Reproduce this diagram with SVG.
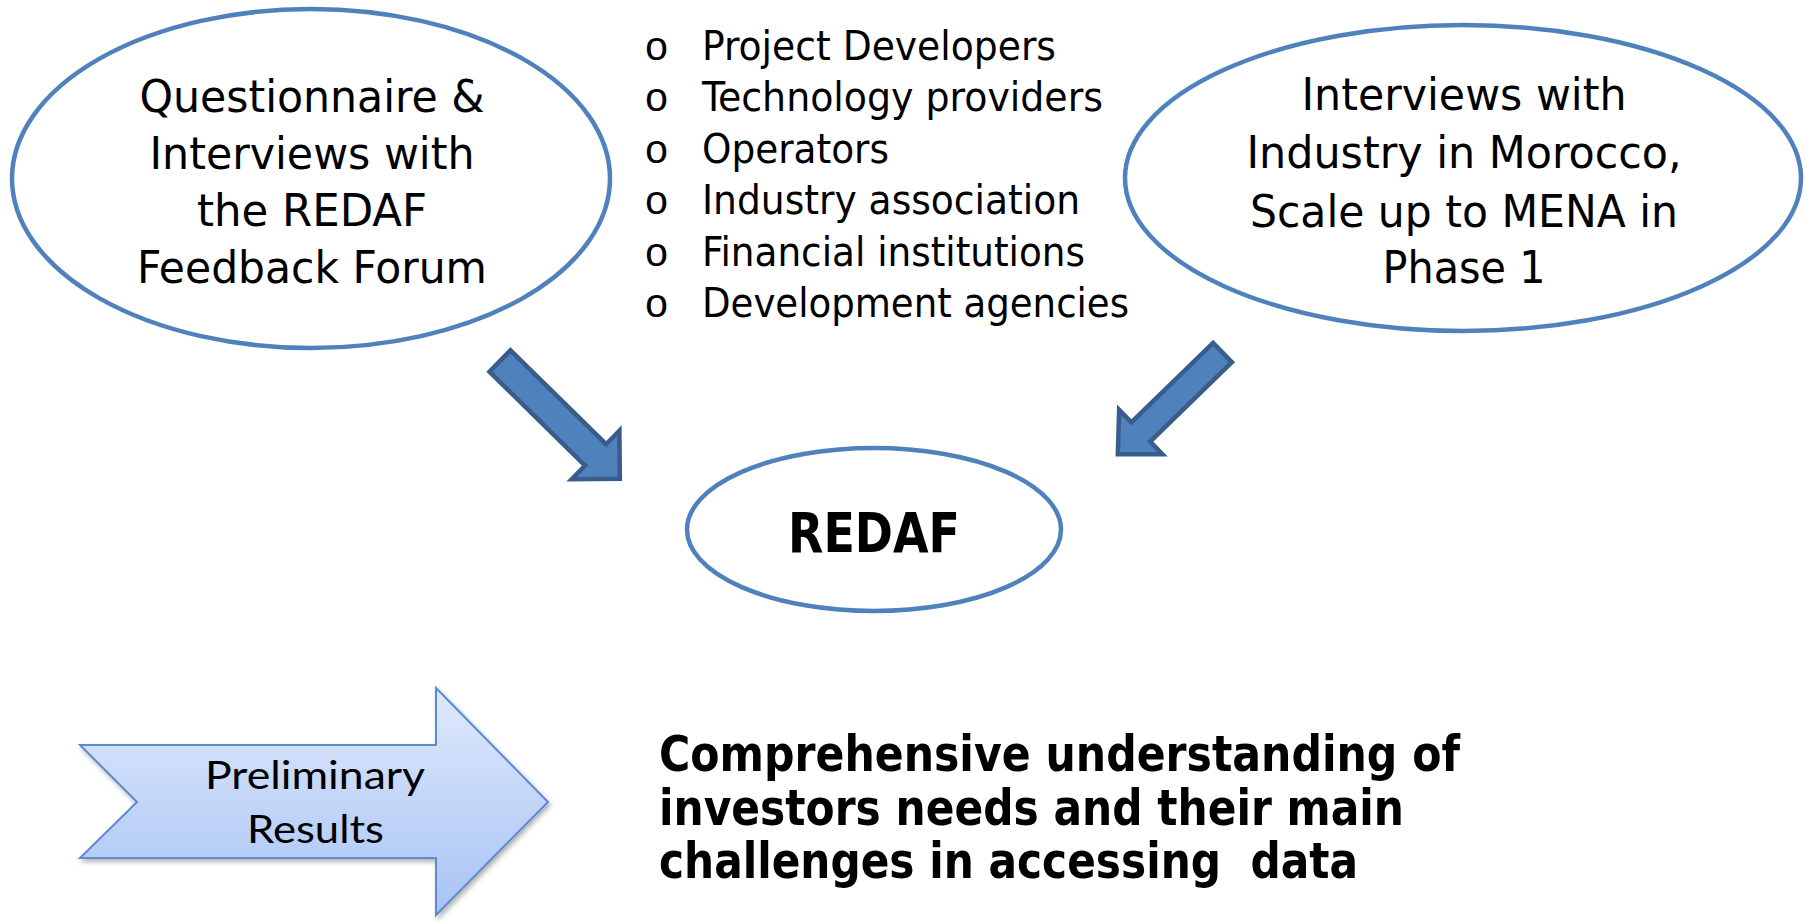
<svg xmlns="http://www.w3.org/2000/svg" width="1806" height="922" viewBox="0 0 1806 922">
  <defs>
    <style>
      .oval { fill: #ffffff; stroke: #4f81bd; stroke-width: 4.5; }
      .lbl { font-family: "DejaVu Sans Condensed", "DejaVu Sans", sans-serif; fill: #000000; }
      .big { font-size: 45px; text-anchor: middle; }
      .item { font-size: 41px; }
      .dot { font-family: "Liberation Mono", monospace; font-size: 41px; text-anchor: middle; fill: #000000; }
      .bold { font-family: "DejaVu Sans Condensed", "DejaVu Sans", sans-serif; font-weight: bold; fill: #000000; }
      .blk { fill: #4f81bd; stroke: #385d8a; stroke-width: 4.5; stroke-linejoin: miter; }
      .soft { font-family: Lato, "Open Sans", sans-serif; font-size: 38px; text-anchor: middle; fill: #000000; }
    </style>
    <linearGradient id="paleBlue" x1="0" y1="0" x2="0" y2="1">
      <stop offset="0" stop-color="#dfe9fc"/>
      <stop offset="1" stop-color="#a7c3f5"/>
    </linearGradient>
    <filter id="shade" x="-10%" y="-10%" width="125%" height="130%">
      <feDropShadow dx="2" dy="3" stdDeviation="2.5" flood-color="#000000" flood-opacity="0.3"/>
    </filter>
  </defs>

  <rect width="1806" height="922" fill="#ffffff"/>

  <!-- survey source on the left -->
  <g id="node-questionnaire">
    <ellipse class="oval" cx="311" cy="178.5" rx="299" ry="169.5"/>
    <text class="lbl big" x="312" y="112" textLength="345" lengthAdjust="spacingAndGlyphs">Questionnaire &amp;</text>
    <text class="lbl big" x="312" y="169" textLength="325" lengthAdjust="spacingAndGlyphs">Interviews with</text>
    <text class="lbl big" x="312" y="226" textLength="230" lengthAdjust="spacingAndGlyphs">the REDAF</text>
    <text class="lbl big" x="312" y="283" textLength="350" lengthAdjust="spacingAndGlyphs">Feedback Forum</text>
  </g>

  <!-- stakeholder list -->
  <g id="node-stakeholders">
    <text class="dot" x="656.5" y="60">o</text>
    <text class="dot" x="656.5" y="111.4">o</text>
    <text class="dot" x="656.5" y="162.8">o</text>
    <text class="dot" x="656.5" y="214.2">o</text>
    <text class="dot" x="656.5" y="265.6">o</text>
    <text class="dot" x="656.5" y="317">o</text>
    <text class="lbl item" x="702" y="60" textLength="354" lengthAdjust="spacingAndGlyphs">Project Developers</text>
    <text class="lbl item" x="702" y="111.4" textLength="401" lengthAdjust="spacingAndGlyphs">Technology providers</text>
    <text class="lbl item" x="702" y="162.8" textLength="187" lengthAdjust="spacingAndGlyphs">Operators</text>
    <text class="lbl item" x="702" y="214.2" textLength="378" lengthAdjust="spacingAndGlyphs">Industry association</text>
    <text class="lbl item" x="702" y="265.6" textLength="383" lengthAdjust="spacingAndGlyphs">Financial institutions</text>
    <text class="lbl item" x="702" y="317" textLength="427" lengthAdjust="spacingAndGlyphs">Development agencies</text>
  </g>

  <!-- industry source on the right -->
  <g id="node-interviews">
    <ellipse class="oval" cx="1463" cy="178" rx="338" ry="153"/>
    <text class="lbl big" x="1464" y="110" textLength="325" lengthAdjust="spacingAndGlyphs">Interviews with</text>
    <text class="lbl big" x="1464" y="168" textLength="435" lengthAdjust="spacingAndGlyphs">Industry in Morocco,</text>
    <text class="lbl big" x="1464" y="227" textLength="428" lengthAdjust="spacingAndGlyphs">Scale up to MENA in</text>
    <text class="lbl big" x="1464" y="283" textLength="163" lengthAdjust="spacingAndGlyphs">Phase 1</text>
  </g>

  <!-- central hub -->
  <g id="node-redaf">
    <ellipse class="oval" cx="874" cy="529.5" rx="187" ry="81.5"/>
    <text class="bold" x="874" y="552" font-size="55" text-anchor="middle" textLength="172" lengthAdjust="spacingAndGlyphs">REDAF</text>
  </g>

  <!-- block arrows feeding the hub -->
  <g id="connectors">
    <path class="blk" transform="translate(500,361) rotate(44.5)" d="M0,-15 H134 V-34 L168,0 L134,34 V15 H0 Z"/>
    <path class="blk" transform="translate(1222.5,352.5) rotate(135.8)" d="M0,-13.5 H114 V-31 L146,0 L114,31 V13.5 H0 Z"/>
  </g>

  <!-- result chevron arrow -->
  <g id="node-preliminary">
    <path d="M80,745 L436,745 L436,688 L548,802 L436,915 L436,858 L80,858 L137,802 Z" fill="url(#paleBlue)" stroke="#5b8bcf" stroke-width="2" stroke-linejoin="miter" filter="url(#shade)"/>
    <text class="soft" x="315" y="789" textLength="220" lengthAdjust="spacingAndGlyphs">Preliminary</text>
    <text class="soft" x="315.5" y="843" textLength="137" lengthAdjust="spacingAndGlyphs">Results</text>
  </g>

  <!-- outcome statement -->
  <g id="node-outcome">
    <text class="bold" x="659" y="771" font-size="50" textLength="801" lengthAdjust="spacingAndGlyphs">Comprehensive understanding of</text>
    <text class="bold" x="659" y="825" font-size="50" textLength="745" lengthAdjust="spacingAndGlyphs">investors needs and their main</text>
    <text class="bold" x="659" y="878" font-size="50" textLength="699" lengthAdjust="spacingAndGlyphs" xml:space="preserve">challenges in accessing  data</text>
  </g>
</svg>
